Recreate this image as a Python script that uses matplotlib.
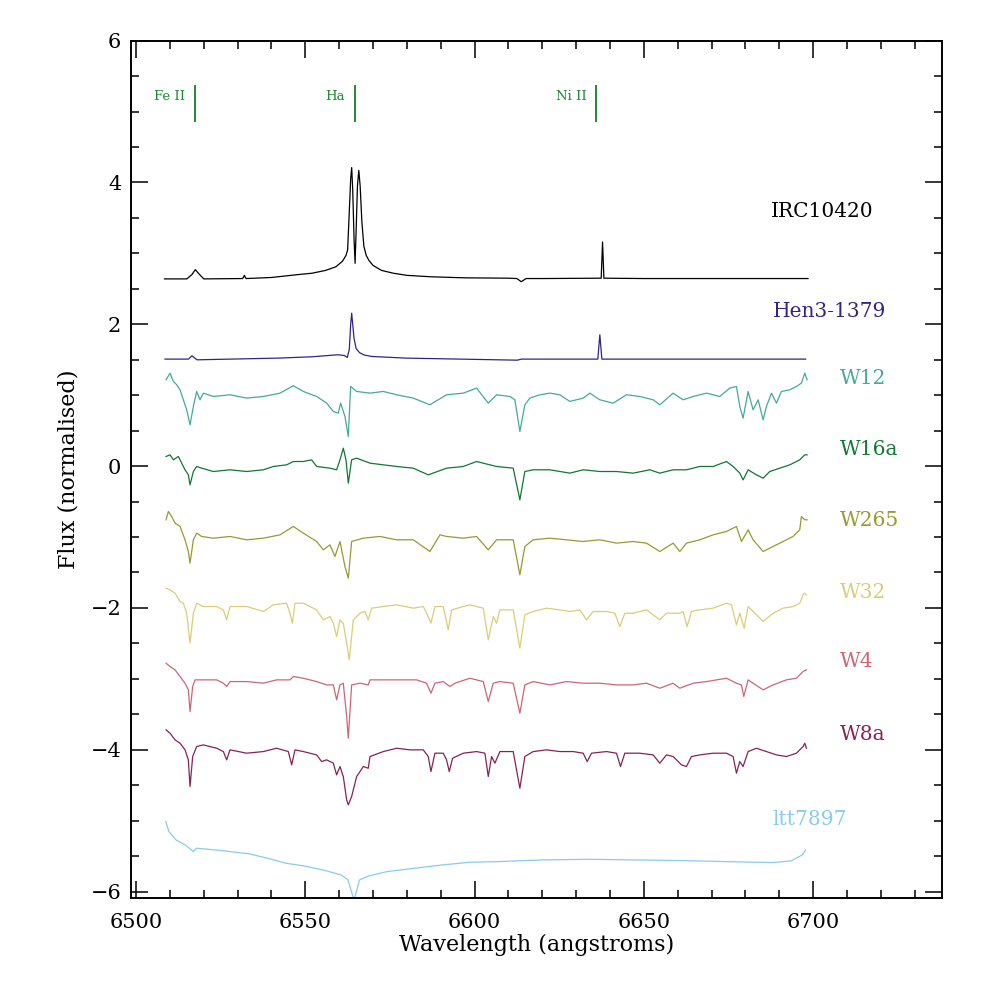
import matplotlib
matplotlib.use("Agg")
import matplotlib.pyplot as plt

plt.rcParams['font.family'] = ['DejaVu Serif']

# spectra: wavelength (angstroms) and normalised flux (already offset)
irc_wave = [6508.4, 6515.0, 6516.5, 6517.5, 6518.8, 6520.0, 6531.5, 6532.0, 6532.5, 6540.0,
            6547.7, 6552.0, 6556.0, 6559.0, 6561.0, 6562.0, 6562.5, 6563.0, 6563.4, 6563.7,
            6564.0, 6564.4, 6564.7, 6565.0, 6565.4, 6565.8, 6566.2, 6566.7, 6567.3, 6568.0,
            6568.8, 6570.0, 6572.5, 6576.0, 6580.0, 6587.0, 6597.0, 6610.0, 6612.5, 6613.8,
            6615.2, 6620.0, 6637.4, 6637.8, 6638.2, 6650.0, 6698.5]
irc_flux = [2.64, 2.64, 2.70, 2.77, 2.70, 2.64, 2.645, 2.69, 2.645, 2.66,
            2.70, 2.72, 2.76, 2.81, 2.89, 2.97, 3.05, 3.60, 4.05, 4.21,
            3.90, 3.20, 2.86, 3.30, 3.95, 4.17, 3.95, 3.45, 3.10, 2.97,
            2.90, 2.83, 2.76, 2.72, 2.69, 2.67, 2.655, 2.65, 2.645, 2.60,
            2.645, 2.645, 2.65, 3.16, 2.65, 2.645, 2.645]

hen_wave = [6508.55, 6515.5, 6516.5, 6518.0, 6542.0, 6552.1, 6559.6, 6561.5, 6562.4, 6563.0,
            6563.4, 6563.7, 6564.0, 6564.4, 6565.0, 6566.0, 6567.5, 6569.7, 6579.8, 6612.6,
            6613.9, 6636.4, 6637.0, 6637.6, 6697.8]
hen_flux = [1.509, 1.509, 1.556, 1.499, 1.523, 1.542, 1.570, 1.560, 1.532, 1.650,
            2.000, 2.157, 2.000, 1.800, 1.660, 1.600, 1.565, 1.546, 1.523, 1.494,
            1.509, 1.509, 1.852, 1.509, 1.509]

w12_wave = [6508.86, 6510.04, 6511.03, 6512.01, 6513.0, 6513.98, 6514.96, 6515.95, 6516.93, 6517.91,
            6518.9, 6519.88, 6522.84, 6527.76, 6532.68, 6537.6, 6542.52, 6546.46, 6549.41, 6553.35,
            6556.3, 6558.27, 6559.74, 6560.43, 6561.71, 6562.7, 6563.39, 6565.16, 6569.1, 6573.03,
            6576.97, 6581.89, 6586.81, 6591.73, 6596.66, 6600.59, 6604.04, 6606.5, 6610.42, 6611.9,
            6613.38, 6614.85, 6616.33, 6619.28, 6622.23, 6625.19, 6628.14, 6632.08, 6634.05, 6637.0,
            6640.93, 6644.87, 6648.81, 6652.75, 6654.71, 6658.65, 6661.6, 6664.56, 6668.49, 6672.43,
            6675.38, 6677.35, 6678.34, 6679.32, 6680.8, 6682.27, 6683.75, 6685.23, 6686.21, 6687.69,
            6689.17, 6690.64, 6693.1, 6695.07, 6696.54, 6697.53, 6698.22]
w12_flux = [1.217, 1.311, 1.194, 1.147, 1.076, 0.935, 0.794, 0.582, 0.841, 1.053,
            0.935, 1.029, 0.982, 1.006, 0.959, 0.982, 1.029, 1.133, 1.053, 0.982,
            0.888, 0.771, 0.747, 0.888, 0.700, 0.418, 1.123, 1.053, 1.029, 1.053,
            1.006, 0.959, 0.865, 1.006, 1.029, 1.100, 0.888, 1.006, 0.982, 0.935,
            0.489, 0.865, 0.959, 1.006, 1.029, 1.006, 0.912, 0.959, 1.029, 0.935,
            0.888, 1.006, 0.982, 0.935, 0.865, 1.029, 0.935, 0.982, 1.029, 0.982,
            1.100, 1.123, 0.841, 0.677, 1.053, 0.794, 0.935, 0.653, 0.841, 1.029,
            0.888, 1.053, 1.076, 1.123, 1.170, 1.311, 1.217]

w16a_wave = [6508.86, 6510.04, 6511.03, 6512.5, 6513.49, 6514.47, 6515.45, 6515.95, 6516.93, 6517.91,
             6519.39, 6522.84, 6527.76, 6532.68, 6537.6, 6540.55, 6544.49, 6546.46, 6549.41, 6551.87,
             6553.35, 6557.28, 6559.25, 6560.24, 6561.22, 6562.01, 6562.7, 6563.68, 6565.16, 6569.1,
             6573.03, 6576.97, 6581.89, 6586.32, 6591.73, 6596.66, 6600.59, 6606.5, 6611.41, 6613.38,
             6614.85, 6617.31, 6622.23, 6628.14, 6632.08, 6637.0, 6641.92, 6646.84, 6651.76, 6654.71,
             6658.65, 6662.59, 6666.53, 6670.46, 6674.4, 6676.37, 6678.34, 6679.32, 6680.8, 6683.26,
             6685.23, 6687.2, 6690.15, 6693.1, 6696.05, 6697.53, 6698.22]
w16a_flux = [0.136, 0.159, 0.089, 0.136, 0.042, -0.052, -0.123, -0.264, -0.076, -0.005,
             -0.029, -0.076, -0.052, -0.076, -0.052, -0.005, 0.018, 0.065, 0.065, 0.089,
             -0.005, -0.029, -0.052, 0.089, 0.253, 0.089, -0.240, 0.089, 0.112, 0.042,
             0.018, -0.005, -0.029, -0.123, -0.029, -0.005, 0.065, -0.005, -0.029, -0.475,
             -0.076, -0.052, -0.052, -0.099, -0.052, -0.076, -0.076, -0.099, -0.052, -0.099,
             -0.052, -0.052, -0.005, -0.005, 0.065, -0.005, -0.099, -0.194, -0.052, -0.123,
             -0.170, -0.076, -0.029, 0.018, 0.089, 0.159, 0.159]

w265_wave = [6508.86, 6509.55, 6510.53, 6511.52, 6513.0, 6514.47, 6515.45, 6515.95, 6516.93, 6517.91,
             6519.39, 6522.84, 6527.76, 6532.68, 6537.6, 6542.52, 6546.46, 6549.41, 6553.35, 6555.32,
             6557.28, 6558.76, 6560.24, 6561.71, 6562.7, 6563.68, 6567.13, 6572.05, 6576.97, 6581.89,
             6586.81, 6589.77, 6591.73, 6596.66, 6600.59, 6604.04, 6606.5, 6611.41, 6613.38, 6614.85,
             6617.31, 6622.23, 6627.15, 6632.08, 6637.0, 6641.92, 6646.84, 6650.78, 6654.71, 6658.65,
             6660.62, 6662.59, 6666.53, 6670.46, 6674.4, 6677.35, 6678.83, 6680.8, 6682.27, 6685.23,
             6688.18, 6691.13, 6694.08, 6696.05, 6696.54, 6697.53, 6698.22]
w265_flux = [-0.757, -0.640, -0.710, -0.804, -0.851, -1.039, -1.204, -1.368, -1.039, -0.945,
             -0.992, -1.016, -0.992, -1.039, -1.016, -0.969, -0.851, -0.945, -1.063, -1.180,
             -1.110, -1.274, -1.063, -1.415, -1.580, -1.063, -1.016, -0.992, -1.039, -1.039,
             -1.204, -0.969, -0.992, -1.016, -0.992, -1.180, -1.039, -1.039, -1.533, -1.133,
             -1.039, -1.016, -1.039, -1.063, -1.039, -1.086, -1.063, -1.086, -1.204, -1.086,
             -1.204, -1.086, -1.039, -0.969, -0.922, -0.851, -1.063, -0.898, -1.039, -1.204,
             -1.133, -1.063, -0.992, -0.898, -0.710, -0.757, -0.757]

w32_wave = [6508.86, 6510.04, 6511.52, 6513.0, 6513.98, 6514.96, 6515.95, 6516.93, 6517.91, 6519.88,
            6523.82, 6525.79, 6526.77, 6527.76, 6532.68, 6537.6, 6540.55, 6544.49, 6545.47, 6546.16,
            6546.95, 6549.41, 6553.35, 6555.32, 6557.28, 6558.27, 6559.25, 6560.24, 6561.22, 6562.21,
            6562.99, 6564.17, 6566.14, 6567.62, 6568.6, 6569.59, 6573.03, 6576.97, 6581.89, 6584.85,
            6586.32, 6587.11, 6588.29, 6590.75, 6592.23, 6593.21, 6596.66, 6598.62, 6602.56, 6604.04,
            6605.51, 6606.5, 6607.48, 6611.41, 6613.38, 6614.85, 6617.31, 6621.25, 6625.19, 6628.14,
            6631.09, 6633.06, 6635.03, 6638.97, 6641.43, 6642.9, 6644.38, 6646.84, 6650.78, 6654.71,
            6656.68, 6660.62, 6661.6, 6662.78, 6664.06, 6666.53, 6670.46, 6674.4, 6675.88, 6677.35,
            6678.34, 6679.62, 6680.8, 6682.27, 6685.23, 6688.18, 6691.13, 6694.08, 6696.05, 6697.23,
            6698.02]
w32_flux = [-1.721, -1.745, -1.792, -1.909, -1.933, -2.074, -2.497, -2.074, -1.933, -1.980,
            -1.980, -2.027, -2.168, -1.980, -1.980, -2.050, -1.956, -1.933, -2.074, -2.215,
            -1.933, -1.933, -2.027, -2.168, -2.121, -2.215, -2.403, -2.168, -2.215, -2.497,
            -2.732, -2.168, -2.074, -2.050, -2.168, -2.003, -1.980, -1.956, -2.003, -1.980,
            -2.121, -2.215, -1.980, -1.980, -2.309, -2.027, -1.980, -1.956, -2.003, -2.450,
            -2.121, -2.215, -2.027, -2.027, -2.567, -2.097, -2.050, -2.003, -2.027, -2.050,
            -2.027, -2.168, -2.050, -2.050, -2.074, -2.262, -2.074, -2.074, -2.027, -2.168,
            -2.074, -2.074, -2.050, -2.262, -2.050, -2.027, -2.003, -1.933, -1.956, -2.238,
            -2.074, -2.285, -1.980, -2.050, -2.191, -2.074, -2.003, -1.980, -1.933, -1.792,
            -1.815]

w4_wave = [6508.86, 6510.04, 6511.52, 6513.0, 6514.47, 6515.45, 6515.95, 6516.73, 6517.42, 6519.88,
           6523.82, 6525.79, 6526.77, 6527.76, 6532.68, 6537.6, 6541.54, 6545.47, 6546.46, 6549.41,
           6553.35, 6556.3, 6558.27, 6559.25, 6560.24, 6561.22, 6562.21, 6562.7, 6563.68, 6566.14,
           6568.6, 6569.1, 6573.03, 6576.97, 6582.88, 6585.83, 6587.11, 6588.29, 6590.75, 6592.72,
           6594.19, 6598.62, 6602.56, 6604.04, 6605.51, 6607.48, 6611.41, 6613.38, 6614.85, 6617.31,
           6622.23, 6627.15, 6632.08, 6637.0, 6641.92, 6646.84, 6650.78, 6654.71, 6658.65, 6660.62,
           6664.56, 6668.49, 6674.4, 6677.35, 6678.83, 6679.52, 6680.8, 6682.27, 6685.23, 6688.18,
           6692.12, 6695.07, 6697.04, 6698.02]
w4_flux = [-2.779, -2.826, -2.873, -2.967, -3.061, -3.155, -3.461, -3.108, -3.014, -3.014,
           -3.014, -3.061, -3.108, -3.038, -3.038, -3.061, -3.014, -3.014, -2.967, -2.991,
           -3.038, -3.085, -3.085, -3.296, -3.085, -3.061, -3.531, -3.837, -3.085, -3.061,
           -3.085, -3.014, -3.014, -3.014, -3.014, -3.061, -3.202, -3.061, -3.038, -3.108,
           -3.061, -2.991, -3.038, -3.320, -3.061, -3.038, -3.061, -3.484, -3.085, -3.038,
           -3.085, -3.038, -3.061, -3.061, -3.085, -3.085, -3.061, -3.132, -3.061, -3.132,
           -3.061, -3.038, -2.991, -3.061, -3.085, -3.249, -3.014, -3.061, -3.155, -3.085,
           -3.014, -2.991, -2.896, -2.873]

w8a_wave = [6508.86, 6510.04, 6511.52, 6513.0, 6514.47, 6515.45, 6515.95, 6516.73, 6517.91, 6519.88,
            6523.82, 6525.79, 6526.77, 6527.76, 6532.68, 6537.6, 6541.54, 6544.98, 6545.97, 6546.95,
            6549.41, 6553.35, 6554.82, 6556.3, 6558.27, 6559.25, 6560.24, 6561.22, 6562.21, 6562.7,
            6563.68, 6565.16, 6567.13, 6568.6, 6569.1, 6573.03, 6576.97, 6580.91, 6584.85, 6586.32,
            6587.11, 6588.29, 6590.75, 6591.73, 6592.52, 6593.5, 6596.66, 6600.59, 6603.05, 6604.04,
            6605.02, 6606.0, 6607.48, 6611.41, 6613.38, 6614.85, 6617.31, 6621.25, 6625.19, 6629.13,
            6632.08, 6633.26, 6634.54, 6638.97, 6641.92, 6643.1, 6644.38, 6648.81, 6652.75, 6654.71,
            6656.68, 6658.65, 6661.11, 6662.59, 6664.06, 6666.53, 6670.46, 6674.4, 6676.37, 6677.35,
            6678.34, 6679.32, 6680.8, 6683.26, 6686.21, 6689.17, 6692.12, 6695.07, 6697.04, 6697.53,
            6698.02]
w8a_flux = [-3.719, -3.766, -3.860, -3.907, -4.001, -4.142, -4.518, -4.095, -3.954, -3.931,
            -3.978, -4.025, -4.142, -4.001, -4.048, -4.025, -3.978, -4.025, -4.213, -4.001,
            -4.025, -4.072, -4.166, -4.142, -4.189, -4.354, -4.236, -4.377, -4.706, -4.777,
            -4.659, -4.377, -4.236, -4.260, -4.095, -4.025, -3.978, -4.001, -4.001, -4.095,
            -4.307, -4.048, -4.048, -4.142, -4.307, -4.119, -4.048, -4.025, -4.048, -4.377,
            -4.095, -4.189, -4.025, -4.025, -4.542, -4.095, -4.025, -4.001, -4.025, -4.025,
            -4.048, -4.166, -4.048, -4.025, -4.048, -4.236, -4.048, -4.048, -4.072, -4.189,
            -4.072, -4.095, -4.213, -4.236, -4.095, -4.072, -4.048, -4.048, -4.095, -4.330,
            -4.166, -4.236, -4.025, -3.978, -4.025, -4.072, -4.095, -4.048, -3.954, -3.907,
            -3.978]

ltt_wave = [6508.8, 6509.7, 6511.8, 6514.5, 6516.9, 6517.9, 6525.3, 6533.5, 6538.9, 6544.3,
            6549.7, 6555.2, 6560.6, 6562.6, 6564.4, 6566.0, 6568.7, 6574.1, 6582.3, 6590.4,
            6598.5, 6606.6, 6620.2, 6633.8, 6647.3, 6660.9, 6674.4, 6688.0, 6693.5, 6696.8, 6697.8]
ltt_flux = [-5.012, -5.153, -5.271, -5.341, -5.435, -5.388, -5.421, -5.468, -5.530, -5.600,
            -5.638, -5.694, -5.765, -5.835, -6.120, -5.835, -5.779, -5.718, -5.670, -5.624,
            -5.586, -5.577, -5.553, -5.544, -5.553, -5.562, -5.577, -5.590, -5.567, -5.482, -5.412]

names = ['IRC10420', 'Hen3-1379', 'W12', 'W16a', 'W265', 'W32', 'W4', 'W8a', 'ltt7897']
colors = ['black', '#332288', '#44AA99', '#117733', '#999933', '#DDCC77', '#CC6677', '#882255', '#88CCEE']
label_x = [6687.5, 6688.0, 6707.9, 6707.9, 6707.9, 6707.9, 6707.9, 6707.9, 6688.0]
label_y = [3.59, 2.18, 1.24, 0.24, -0.76, -1.78, -2.76, -3.78, -4.99]

line_names = ['Fe II', 'Ha', 'Ni II']
line_wave = [6517.4, 6564.7, 6635.9]

waves = [irc_wave, hen_wave, w12_wave, w16a_wave, w265_wave, w32_wave, w4_wave, w8a_wave, ltt_wave]
fluxes = [irc_flux, hen_flux, w12_flux, w16a_flux, w265_flux, w32_flux, w4_flux, w8a_flux, ltt_flux]

fig = plt.figure(figsize=(9.81, 9.81), dpi=100)
ax = fig.add_axes([0.1335, 0.0846, 0.8265, 0.874])

for w, f, c, n, lx, ly in zip(waves, fluxes, colors, names, label_x, label_y):
    ax.plot(w, f, color=c, lw=0.9)
    ax.text(lx, ly, n, color=c, fontsize=14.5, ha='left', va='center')

for n, lw_ in zip(line_names, line_wave):
    ax.plot([lw_, lw_], [4.86, 5.36], color='#228833', lw=1.4)
    ax.text(lw_ - 2.9, 5.21, n, color='#228833', fontsize=9.5, ha='right', va='center')

ax.set_xlim(6498.5, 6738)
ax.set_ylim(-6.09, 6.0)
ax.set_xticks([6500, 6550, 6600, 6650, 6700])
ax.set_xticks(range(6500, 6740, 10), minor=True)
ax.set_yticks([-6, -4, -2, 0, 2, 4, 6])
ax.set_yticks([v * 0.5 for v in range(-12, 13)], minor=True)
ax.tick_params(which='both', direction='in', top=True, right=True, labelsize=15, width=1.1)
ax.tick_params(which='major', length=12)
ax.tick_params(which='minor', length=6)
ax.tick_params(axis='x', pad=11)
ax.tick_params(axis='y', pad=7)
for s in ax.spines.values():
    s.set_linewidth(1.4)

ax.set_xlabel('Wavelength (angstroms)', fontsize=16)
ax.set_ylabel('Flux (normalised)', fontsize=16)
ax.xaxis.set_label_coords(0.5, -0.042)
ax.yaxis.set_label_coords(-0.063, 0.5)

fig.savefig('out.png', dpi=100)
